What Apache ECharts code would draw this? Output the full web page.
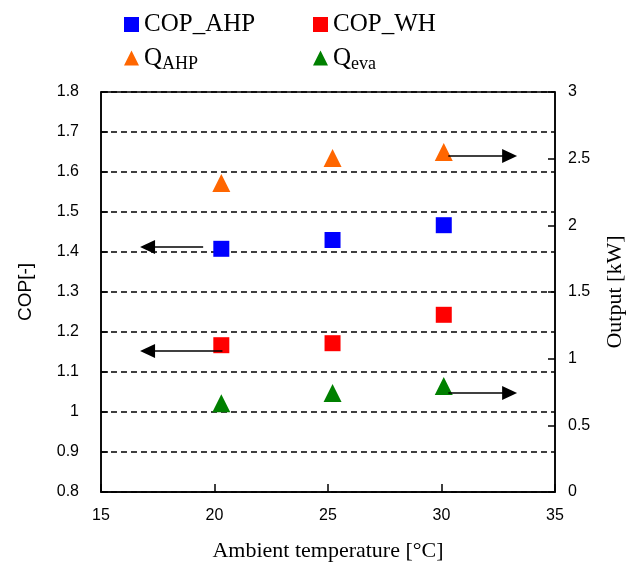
<!DOCTYPE html>
<html>
<head>
<meta charset="utf-8">
<script src="https://cdn.jsdelivr.net/npm/echarts@6/dist/echarts.min.js"></script>
<style>html,body{margin:0;padding:0;background:#fff}#c{width:637px;height:569px}</style>
</head>
<body>
<div id="c"></div>
<script>
// ---- data ----
const temps = [20.3, 25.2, 30.1];
const copAHP = [1.408, 1.430, 1.467];
const copWH = [1.167, 1.172, 1.243];
const qAHP = [2.318, 2.505, 2.55];
const qEva = [0.665, 0.742, 0.795];
const xTicks = [15, 20, 25, 30, 35];
const leftTicks = [0.8, 1.8, 0.1];   // min, max, step
const rightTicks = [0, 3, 0.5];      // min, max, step
// annotation arrows: [x0, y0, x1, y1] in data units
const arrowsLeft = [[19.5, 1.4125, 17.05, 1.4125], [20.35, 1.1525, 17.05, 1.1525]];
const arrowsRight = [[30.3, 2.52, 33.0, 2.52], [30.3, 0.7425, 33.0, 0.7425]];

const serif = 'Liberation Serif';
const sans = 'Liberation Sans';

function pts(xs, ys) { return xs.map((x, i) => [x, ys[i]]); }
function arrowData(list) {
  return list.map(a => [{coord: [a[0], a[1]]}, {coord: [a[2], a[3]]}]);
}
const markStyle = {
  silent: true, animation: false,
  symbol: ['none', 'triangle'], symbolSize: [14, 15],
  itemStyle: {color: '#000', opacity: 1},
  lineStyle: {color: '#000', width: 1.5, type: 'solid', opacity: 1},
  label: {show: false}
};

const legendRich = {
  n: {fontFamily: serif, fontSize: 25, color: '#000', lineHeight: 30},
  q: {fontFamily: serif, fontSize: 25, color: '#000', lineHeight: 30},
  s: {fontFamily: serif, fontSize: 18, color: '#000', lineHeight: 30, padding: [12, 0, 0, 0]}
};
function legendFmt(name) {
  if (name === 'Q_AHP') return '{q|Q}{s|AHP}';
  if (name === 'Q_eva') return '{q|Q}{s|eva}';
  return '{n|' + name + '}';
}

const chart = echarts.init(document.getElementById('c'), null, {renderer: 'canvas'});
chart.setOption({
  animation: false,
  backgroundColor: '#fff',
  grid: {left: 101, right: 82, top: 92, bottom: 77, show: true, borderColor: '#000', borderWidth: 1.5, backgroundColor: 'transparent'},
  legend: [
    {left: 119, top: 7, orient: 'vertical', itemGap: 6, itemWidth: 15, itemHeight: 15,
     data: [{name: 'COP_AHP', icon: 'rect'}, {name: 'Q_AHP', icon: 'triangle'}],
     formatter: legendFmt, textStyle: {rich: legendRich}},
    {left: 308, top: 7, orient: 'vertical', itemGap: 6, itemWidth: 15, itemHeight: 15,
     data: [{name: 'COP_WH', icon: 'rect'}, {name: 'Q_eva', icon: 'triangle'}],
     formatter: legendFmt, textStyle: {rich: legendRich}}
  ],
  xAxis: {
    type: 'value', min: xTicks[0], max: xTicks[xTicks.length - 1], interval: 5,
    name: 'Ambient temperature [°C]', nameLocation: 'middle', nameGap: 48,
    nameTextStyle: {fontFamily: serif, fontSize: 22, color: '#000'},
    axisLine: {show: true, lineStyle: {color: '#000', width: 1.5}},
    axisTick: {show: true, inside: true, length: 8, lineStyle: {color: '#000', width: 1.5}},
    axisLabel: {fontFamily: sans, fontSize: 16, color: '#000', margin: 16},
    splitLine: {show: false}
  },
  yAxis: [
    {
      type: 'value', min: leftTicks[0], max: leftTicks[1], interval: leftTicks[2], position: 'left',
      name: 'COP[-]', nameLocation: 'middle', nameGap: 66, nameRotate: 90,
      nameTextStyle: {fontFamily: sans, fontSize: 19, color: '#000'},
      axisLine: {show: true, lineStyle: {color: '#000', width: 1.5}},
      axisTick: {show: true, inside: true, length: 7, lineStyle: {color: '#000', width: 1.5}},
      axisLabel: {fontFamily: sans, fontSize: 16, color: '#000', margin: 22,
                  formatter: v => String(parseFloat(v.toFixed(1)))},
      splitLine: {show: true, lineStyle: {color: '#000', width: 1.5, type: [6, 4]}}
    },
    {
      type: 'value', min: rightTicks[0], max: rightTicks[1], interval: rightTicks[2], position: 'right',
      name: 'Output [kW]', nameLocation: 'middle', nameGap: 49, nameRotate: 90,
      nameTextStyle: {fontFamily: serif, fontSize: 22, color: '#000'},
      axisLine: {show: true, lineStyle: {color: '#000', width: 1.5}},
      axisTick: {show: true, inside: true, length: 7, lineStyle: {color: '#000', width: 1.5}},
      axisLabel: {fontFamily: sans, fontSize: 16, color: '#000', margin: 13,
                  formatter: v => String(parseFloat(v.toFixed(1)))},
      splitLine: {show: false}
    }
  ],
  series: [
    {name: 'COP_AHP', type: 'scatter', yAxisIndex: 0, symbol: 'rect', symbolSize: 16,
     itemStyle: {color: '#0000FF', opacity: 1}, data: pts(temps, copAHP),
     markLine: Object.assign({data: arrowData(arrowsLeft)}, markStyle)},
    {name: 'COP_WH', type: 'scatter', yAxisIndex: 0, symbol: 'rect', symbolSize: 16,
     itemStyle: {color: '#FF0000', opacity: 1}, data: pts(temps, copWH)},
    {name: 'Q_AHP', type: 'scatter', yAxisIndex: 1, symbol: 'triangle', symbolSize: 18,
     itemStyle: {color: '#FF6600', opacity: 1}, data: pts(temps, qAHP),
     markLine: Object.assign({data: arrowData(arrowsRight)}, markStyle)},
    {name: 'Q_eva', type: 'scatter', yAxisIndex: 1, symbol: 'triangle', symbolSize: 18,
     itemStyle: {color: '#008000', opacity: 1}, data: pts(temps, qEva)}
  ]
});
</script>
</body>
</html>
